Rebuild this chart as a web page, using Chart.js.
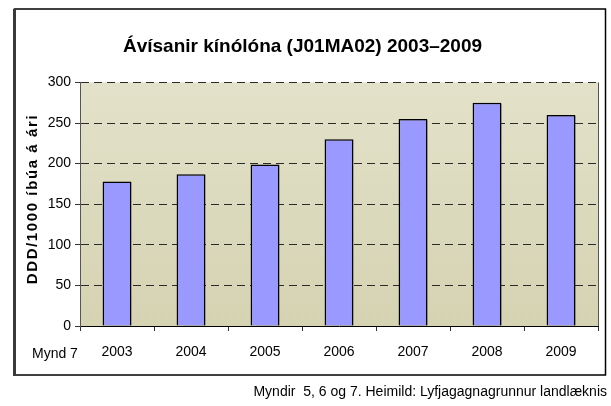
<!DOCTYPE html>
<html>
<head>
<meta charset="utf-8">
<script src="https://cdn.jsdelivr.net/npm/chart.js@4/dist/chart.umd.min.js"></script>
<style>
  html, body { margin: 0; padding: 0; background: #ffffff; }
  #wrap { width: 611px; height: 406px; position: relative; }
</style>
</head>
<body>
<div id="wrap"><canvas id="c" width="611" height="406"></canvas></div>
<script>
const categories = ['2003', '2004', '2005', '2006', '2007', '2008', '2009'];
const values = [178, 187, 199, 230, 255, 275, 260];
const yTicks = [0, 50, 100, 150, 200, 250, 300];
const titleText = 'Ávísanir kínólóna (J01MA02) 2003–2009';
const yTitleText = 'DDD/1000 íbúa á ári';
const figLabel = 'Mynd 7';
const captionText = 'Myndir  5, 6 og 7. Heimild: Lyfjagagnagrunnur landlæknis';

const FONT = '"Liberation Sans", Arial, sans-serif';

const decor = {
  id: 'decor',
  beforeDraw(chart) {
    const ctx = chart.ctx;
    const a = chart.chartArea;
    ctx.save();
    ctx.fillStyle = '#ffffff';
    ctx.fillRect(0, 0, chart.width, chart.height);
    // outer frame
    ctx.strokeStyle = '#000000';
    ctx.lineWidth = 1.5;
    ctx.strokeRect(14.5, 9, 591, 366);
    ctx.fillStyle = '#3a3a3a';
    ctx.fillRect(13, 9, 3, 367);
    // plot background gradient
    const g = ctx.createLinearGradient(0, a.top, 0, a.bottom);
    g.addColorStop(0, '#e3e1c9');
    g.addColorStop(1, '#d5d3b2');
    ctx.fillStyle = g;
    ctx.fillRect(a.left, a.top, a.right - a.left, a.bottom - a.top);
    ctx.restore();
  },
  beforeDatasetsDraw(chart) {
    const ctx = chart.ctx;
    ctx.save();
    ctx.shadowColor = 'rgba(0,0,0,0.35)';
    ctx.shadowOffsetX = 2;
    ctx.shadowOffsetY = 1;
    ctx.shadowBlur = 1;
  },
  afterDatasetsDraw(chart) {
    chart.ctx.restore();
  },
  afterDraw(chart) {
    const ctx = chart.ctx;
    const a = chart.chartArea;
    ctx.save();
    // right edge of plot
    ctx.strokeStyle = '#555555';
    ctx.lineWidth = 1;
    ctx.beginPath();
    ctx.moveTo(Math.round(a.right) + 0.5, a.top);
    ctx.lineTo(Math.round(a.right) + 0.5, a.bottom);
    ctx.stroke();
    // y axis title
    ctx.fillStyle = '#000000';
    ctx.font = 'bold 15px ' + FONT;
    ctx.textAlign = 'center';
    ctx.textBaseline = 'middle';
    ctx.translate(33, 199);
    ctx.rotate(-Math.PI / 2);
    try { ctx.letterSpacing = '1.6px'; } catch (e) {}
    ctx.fillText(yTitleText, 0, 0);
    ctx.restore();
    ctx.save();
    ctx.fillStyle = '#000000';
    ctx.font = '14px ' + FONT;
    ctx.textBaseline = 'middle';
    ctx.textAlign = 'left';
    ctx.fillText(figLabel, 32, 354);
    ctx.textAlign = 'right';
    ctx.fillText(captionText, 607, 392);
    ctx.restore();
  }
};

new Chart(document.getElementById('c'), {
  type: 'bar',
  data: {
    labels: categories,
    datasets: [{
      data: values,
      backgroundColor: '#9999ff',
      borderColor: '#000000',
      borderWidth: 1.5,
      categoryPercentage: 1,
      barPercentage: 0.39
    }]
  },
  options: {
    responsive: false,
    animation: false,
    devicePixelRatio: 1,
    layout: { padding: { left: 7, right: 13, top: 9, bottom: 40 } },
    plugins: {
      legend: { display: false },
      tooltip: { enabled: false },
      title: {
        display: true,
        text: titleText,
        color: '#000000',
        font: { family: FONT, size: 19, weight: 'bold' },
        padding: { top: 26.6, bottom: 24 }
      }
    },
    scales: {
      x: {
        grid: {
          offset: true,
          drawOnChartArea: false,
          drawTicks: true,
          tickLength: 5,
          color: '#333333'
        },
        border: { color: '#000000', width: 1 },
        ticks: {
          color: '#000000',
          font: { family: FONT, size: 14 },
          padding: 13
        },
        afterFit(s) { s.height = 40; }
      },
      y: {
        min: 0,
        max: 300,
        afterBuildTicks(s) { s.ticks = yTicks.map(v => ({ value: v })); },
        grid: {
          color: '#2a2a2a',
          lineWidth: 1,
          tickLength: 5,
          tickBorderDash: [],
          tickColor: '#333333'
        },
        border: { color: '#555555', width: 1, dash: [8, 5] },
        ticks: {
          color: '#000000',
          font: { family: FONT, size: 14 },
          padding: 4
        },
        afterFit(s) { s.width = 73; }
      }
    }
  },
  plugins: [decor]
});
</script>
</body>
</html>
